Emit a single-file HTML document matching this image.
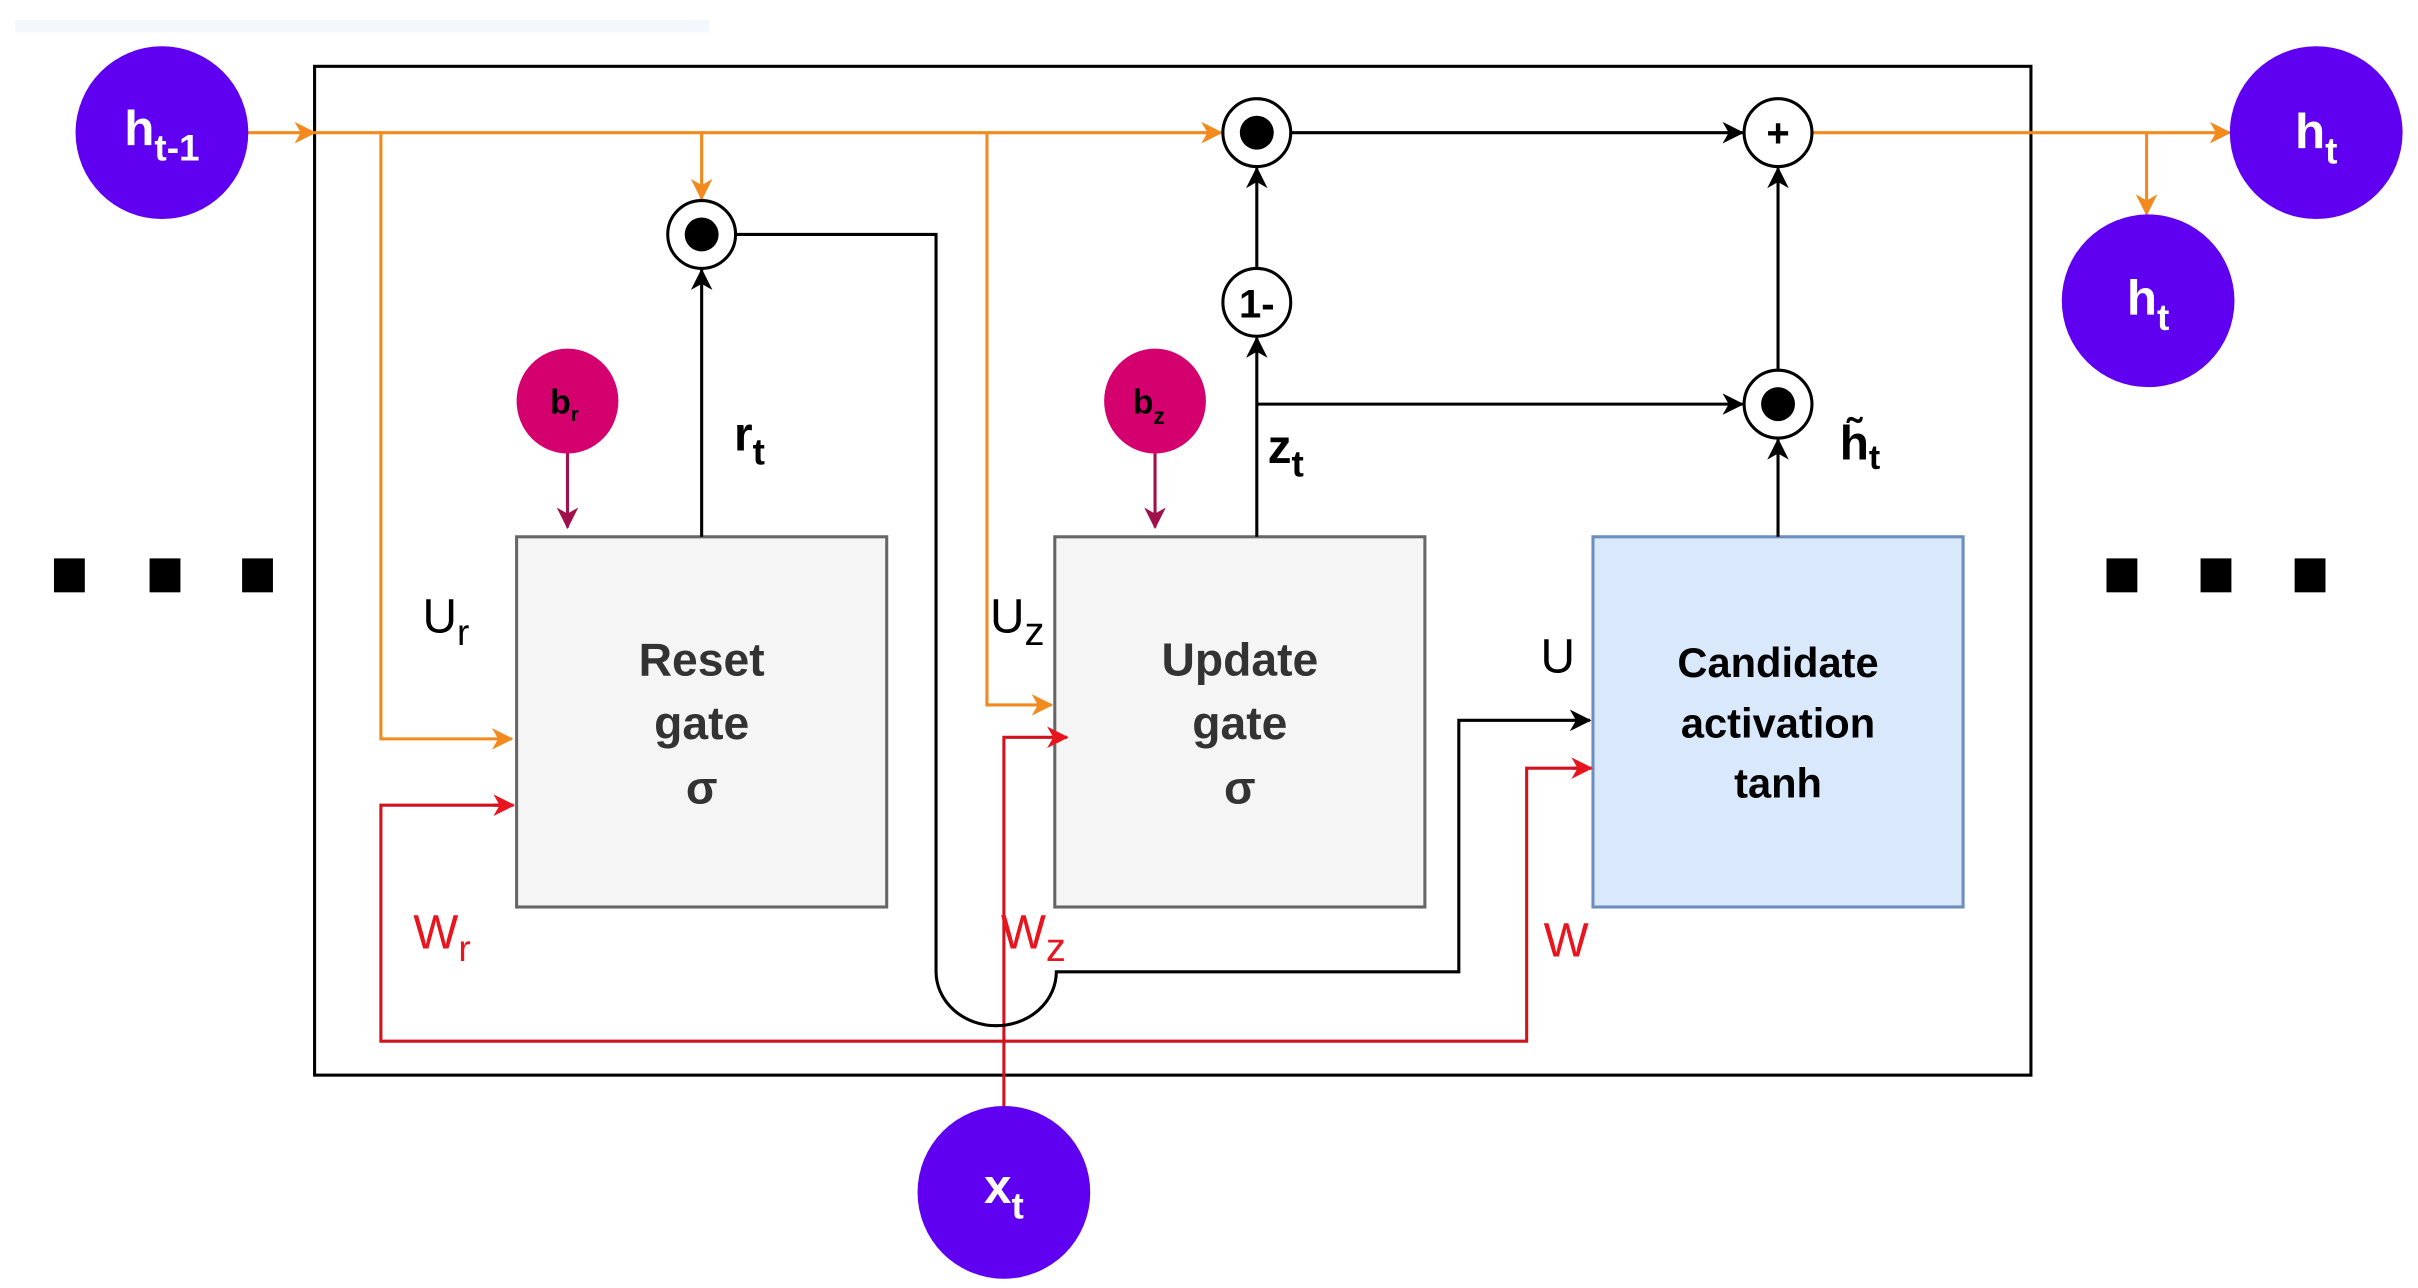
<!DOCTYPE html>
<html><head><meta charset="utf-8"><style>
html,body{margin:0;padding:0;background:#fff;}
svg{display:block;}
text{font-family:"Liberation Sans",sans-serif;}
</style></head><body>
<svg width="2418" height="1288" viewBox="0 0 1568 835" preserveAspectRatio="none" xmlns="http://www.w3.org/2000/svg">
<defs>
<marker id="ao" markerWidth="14" markerHeight="14" refX="13" refY="7" orient="auto" markerUnits="userSpaceOnUse"><path d="M0,0 L14,7 L0,14 L4,7 z" fill="#f28a1e"/></marker>
<marker id="ab" markerWidth="14" markerHeight="14" refX="13" refY="7" orient="auto" markerUnits="userSpaceOnUse"><path d="M0,0 L14,7 L0,14 L4,7 z" fill="#000"/></marker>
<marker id="ar" markerWidth="14" markerHeight="14" refX="13" refY="7" orient="auto" markerUnits="userSpaceOnUse"><path d="M0,0 L14,7 L0,14 L4,7 z" fill="#e8141e"/></marker>
<marker id="am" markerWidth="14" markerHeight="14" refX="13" refY="7" orient="auto" markerUnits="userSpaceOnUse"><path d="M0,0 L14,7 L0,14 L4,7 z" fill="#a0104a"/></marker>
</defs>
<rect x="10" y="13" width="450" height="8" fill="#f3f8fd"/>
<rect x="204" y="43" width="1113" height="654" fill="none" stroke="#000" stroke-width="2"/>
<rect x="335" y="348" width="240" height="240" fill="#f5f5f5" stroke="#666" stroke-width="2"/>
<rect x="684" y="348" width="240" height="240" fill="#f5f5f5" stroke="#666" stroke-width="2"/>
<rect x="1033" y="348" width="240" height="240" fill="#dae8fc" stroke="#6c8ebf" stroke-width="2"/>
<g font-weight="bold" font-size="30" fill="#333" text-anchor="middle">
<text x="455" y="438">Reset</text><text x="455" y="479">gate</text><text x="455" y="521">σ</text>
<text x="804" y="438">Update</text><text x="804" y="479">gate</text><text x="804" y="521">σ</text>
</g>
<g font-weight="bold" font-size="27" fill="#000" text-anchor="middle">
<text x="1153" y="439">Candidate</text><text x="1153" y="478">activation</text><text x="1153" y="517">tanh</text>
</g>
<g stroke="#f28a1e" stroke-width="2" fill="none">
<line x1="160" y1="86" x2="204" y2="86" marker-end="url(#ao)"/>
<line x1="204" y1="86" x2="792" y2="86" marker-end="url(#ao)"/>
<polyline points="247,86 247,479 332,479" marker-end="url(#ao)"/>
<line x1="455" y1="86" x2="455" y2="129" marker-end="url(#ao)"/>
<polyline points="640,86 640,457 682,457" marker-end="url(#ao)"/>
<line x1="1175" y1="86" x2="1446" y2="86" marker-end="url(#ao)"/>
<line x1="1392" y1="86" x2="1392" y2="139" marker-end="url(#ao)"/>
</g>
<g stroke="#d0141e" stroke-width="2" fill="none">
<polyline points="651,718 651,478 692,478" marker-end="url(#ar)"/>
<polyline points="332,522 247,522 247,675 990,675 990,498 1031,498"/>
<line x1="320" y1="522" x2="333" y2="522" marker-end="url(#ar)"/>
<line x1="1020" y1="498" x2="1032" y2="498" marker-end="url(#ar)"/>
</g>
<g stroke="#000" stroke-width="2" fill="none">
<line x1="455" y1="348" x2="455" y2="175" marker-end="url(#ab)"/>
<path d="M477,152 L607,152 L607,630 A39,35 0 0 0 685,630 L946,630 L946,467 L1031,467" marker-end="url(#ab)"/>
<line x1="815" y1="348" x2="815" y2="219" marker-end="url(#ab)"/>
<line x1="815" y1="174" x2="815" y2="109" marker-end="url(#ab)"/>
<line x1="815" y1="262" x2="1130" y2="262" marker-end="url(#ab)"/>
<line x1="837" y1="86" x2="1130" y2="86" marker-end="url(#ab)"/>
<line x1="1153" y1="348" x2="1153" y2="285" marker-end="url(#ab)"/>
<line x1="1153" y1="240" x2="1153" y2="109" marker-end="url(#ab)"/>
</g>
<line x1="368" y1="293" x2="368" y2="342" stroke="#a0104a" stroke-width="2" marker-end="url(#am)"/>
<line x1="749" y1="293" x2="749" y2="342" stroke="#a0104a" stroke-width="2" marker-end="url(#am)"/>
<ellipse cx="368" cy="260" rx="33" ry="34" fill="#d4006e"/>
<ellipse cx="749" cy="260" rx="33" ry="34" fill="#d4006e"/>
<text x="366" y="268" font-size="22" font-weight="bold" text-anchor="middle" fill="#000">b<tspan font-size="13" dy="5">r</tspan></text>
<text x="745" y="268" font-size="22" font-weight="bold" text-anchor="middle" fill="#000">b<tspan font-size="15" dy="7">z</tspan></text>
<g stroke="#000" stroke-width="2" fill="#fff">
<ellipse cx="455" cy="152" rx="22" ry="22"/>
<ellipse cx="815" cy="86" rx="22" ry="22"/>
<ellipse cx="1153" cy="86" rx="22" ry="22"/>
<ellipse cx="815" cy="196" rx="22" ry="22"/>
<ellipse cx="1153" cy="262" rx="22" ry="22"/>
</g>
<circle cx="455" cy="152" r="11" fill="#000"/>
<circle cx="815" cy="86" r="11" fill="#000"/>
<circle cx="1153" cy="262" r="11" fill="#000"/>
<text x="1153" y="95" font-size="26" font-weight="bold" text-anchor="middle">+</text>
<text x="815" y="206" font-size="26" font-weight="bold" text-anchor="middle">1-</text>
<g fill="#6000f0">
<ellipse cx="105" cy="86" rx="56" ry="56"/>
<ellipse cx="1502" cy="86" rx="56" ry="56"/>
<ellipse cx="1393" cy="195" rx="56" ry="56"/>
<ellipse cx="651" cy="773" rx="56" ry="56"/>
</g>
<g fill="#fff" font-size="32" text-anchor="middle" font-weight="bold">
<text x="105" y="94">h<tspan font-size="24" dy="10">t-1</tspan></text>
<text x="1502" y="96">h<tspan font-size="24" dy="10">t</tspan></text>
<text x="1393" y="204">h<tspan font-size="24" dy="10">t</tspan></text>
<text x="651" y="780">x<tspan font-size="24" dy="10">t</tspan></text>
</g>
<g font-size="31" fill="#000">
<text x="274" y="410">U<tspan font-size="24" dy="8">r</tspan></text>
<text x="642" y="410">U<tspan font-size="26" dy="8">z</tspan></text>
<text x="999" y="436">U</text>
<text x="476" y="292" font-weight="bold">r<tspan font-size="24" dy="9">t</tspan></text>
<text x="822" y="300" font-weight="bold">z<tspan font-size="24" dy="9">t</tspan></text>
<text x="1193" y="298" font-weight="bold">h̃<tspan font-size="22" dy="6">t</tspan></text>
</g>
<g font-size="31" fill="#e8141e">
<text x="268" y="615">W<tspan font-size="24" dy="8">r</tspan></text>
<text x="649" y="615">W<tspan font-size="26" dy="8">z</tspan></text>
<text x="1001" y="620">W</text>
</g>
<g fill="#000">
<rect x="35" y="362" width="20" height="22"/><rect x="97" y="362" width="20" height="22"/><rect x="157" y="362" width="20" height="22"/>
<rect x="1366" y="362" width="20" height="22"/><rect x="1427" y="362" width="20" height="22"/><rect x="1488" y="362" width="20" height="22"/>
</g>
</svg>
</body></html>
